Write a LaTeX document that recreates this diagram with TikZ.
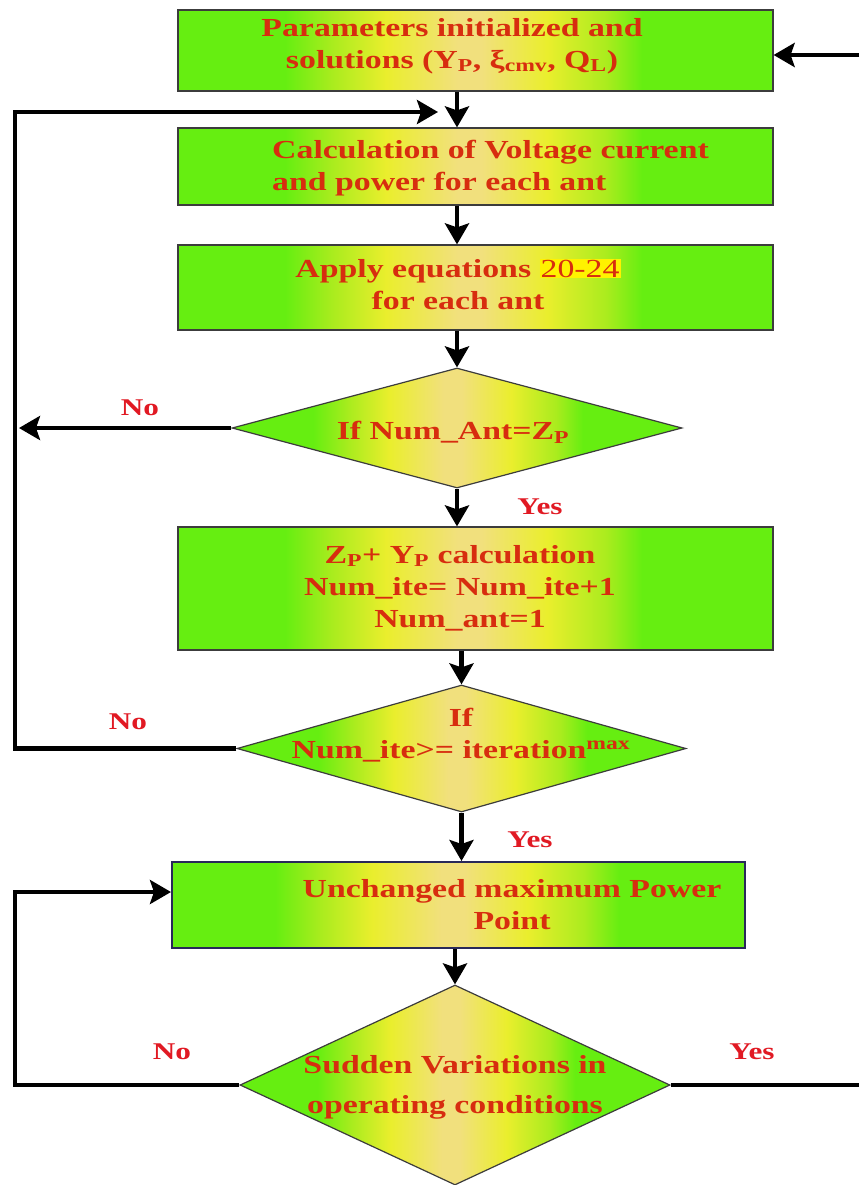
\documentclass[tikz,border=0pt]{standalone}
\usepackage{fontspec}
\newfontfamily\flowfont{Liberation Serif}[FakeStretch=1.3]
\usetikzlibrary{shapes.geometric,arrows.meta}

\definecolor{boxgreen}{RGB}{102,238,17}
\definecolor{boxlime}{RGB}{170,236,30}
\definecolor{boxyellow}{RGB}{234,238,45}
\definecolor{boxpeach}{RGB}{241,224,125}
\definecolor{boxtext}{RGB}{215,45,15}
\definecolor{labeltext}{RGB}{225,25,35}
\definecolor{frame}{RGB}{60,60,60}
\definecolor{framedark}{RGB}{40,40,90}

% green - yellow - peach - yellow - green across the width of a shape
\pgfdeclarehorizontalshading{greenglow}{100bp}{%
  color(0bp)=(boxgreen); color(34bp)=(boxgreen); color(38bp)=(boxlime);
  color(42.5bp)=(boxyellow); color(48.5bp)=(boxpeach); color(50.5bp)=(boxpeach);
  color(56bp)=(boxyellow); color(61bp)=(boxlime); color(64bp)=(boxgreen);
  color(100bp)=(boxgreen)}

\begin{document}
\begin{tikzpicture}[x=1pt, y=-1pt,
  stepbox/.style={rectangle, draw=frame, line width=1.2pt, shading=greenglow,
    shading angle=0, inner sep=0pt},
  decision/.style={diamond, draw=frame, line width=1.2pt, shading=greenglow,
    shading angle=0, inner sep=0pt},
  flowtext/.style={text=boxtext, font=\flowfont\bfseries\fontsize{26}{32}\selectfont,
    align=center, inner sep=0pt},
  answer/.style={text=labeltext, font=\flowfont\bfseries\fontsize{24}{28}\selectfont,
    inner sep=0pt},
  flow/.style={line width=4.5pt, -{Stealth[length=21pt,width=24pt,inset=4pt]}},
  link/.style={line width=4.5pt}]

\fill[white] (0,0) rectangle (859,1185);
\useasboundingbox (0,0) rectangle (859,1185);

% process boxes and decisions
\node[stepbox, minimum width=595pt, minimum height=81pt]  (B1) at (475.5,50.5) {};
\node[stepbox, minimum width=595pt, minimum height=77pt]  (B2) at (475.5,166.5) {};
\node[stepbox, minimum width=595pt, minimum height=85pt]  (B3) at (475.5,287.5) {};
\node[decision, minimum width=450pt, minimum height=120pt] (D1) at (457,428) {};
\node[stepbox, minimum width=595pt, minimum height=123pt] (B4) at (475.5,588.5) {};
\node[decision, minimum width=449pt, minimum height=127pt] (D2) at (461.5,748.5) {};
\node[stepbox, draw=framedark, line width=2pt, minimum width=573pt, minimum height=86pt] (B5) at (458.5,905) {};
\node[decision, minimum width=430pt, minimum height=200pt] (D3) at (455,1085) {};

% rails and free ends of the loops
\coordinate (rail)    at (15,0);
\coordinate (railtip) at (19,0);
\coordinate (loopend) at (438,112);
\coordinate (rtop)    at (859,55);
\coordinate (rbot)    at (859,0);

% main downward flow
\draw[flow] (B1.south -| D1.north) -- (B2.north -| D1.north);
\draw[flow] (B2.south -| D1.north) -- (B3.north -| D1.north);
\draw[flow] (B3.south -| D1.north) -- (D1.north);
\draw[flow] (D1.south) -- (B4.north -| D1.south);
\draw[flow] (B4.south -| D2.north) -- (D2.north);
\draw[flow] (D2.south) -- (B5.north -| D2.south);
\draw[flow] (B5.south -| D3.north) -- (D3.north);

% loops
\draw[flow] (D1.west) -- (D1.west -| railtip);
\draw[flow] (D2.west) -- (D2.west -| rail) |- (loopend);
\draw[flow] (D3.west) -- (D3.west -| rail) |- ([yshift=13pt]B5.west);
\draw[link] (D3.east) -- (D3.east -| rbot);
\draw[flow] (rtop) -- (B1.east |- rtop);

% texts
\node[flowtext] (t1) at (452,46)
  {Parameters initialized and\\solutions (Y\textsubscript{P}, ξ\textsubscript{cmv}, Q\textsubscript{L})};
\node[flowtext, align=left, anchor=west] (t2) at (272,168)
  {Calculation of Voltage current\\and power for each ant};
\node[flowtext] (t3) at (458,284)
  {Apply equations {\mdseries\setlength\fboxsep{1pt}\colorbox{yellow}{20-24}}\\for each ant};
\node[flowtext] (t4) at (453,432) {If Num\_Ant=Z\textsubscript{P}};
\node[flowtext] (t5) at (460,588)
  {Z\textsubscript{P}+ Y\textsubscript{P} calculation\\Num\_ite= Num\_ite+1\\Num\_ant=1};
\node[flowtext] (t6) at (461,735) {If\\Num\_ite>= iteration\textsuperscript{max}};
\node[flowtext] (t7) at (512,905) {Unchanged maximum Power\\Point};
\node[flowtext, font=\flowfont\bfseries\fontsize{26}{40}\selectfont] (t8) at (455,1087)
  {Sudden Variations in\\operating conditions};

% branch labels
\node[answer] (n1) at (140,408) {No};
\node[answer] (y1) at (540,507) {Yes};
\node[answer] (n2) at (128,722) {No};
\node[answer] (y2) at (530,840) {Yes};
\node[answer] (n3) at (172,1052) {No};
\node[answer] (y3) at (752,1052) {Yes};
\end{tikzpicture}
\end{document}
